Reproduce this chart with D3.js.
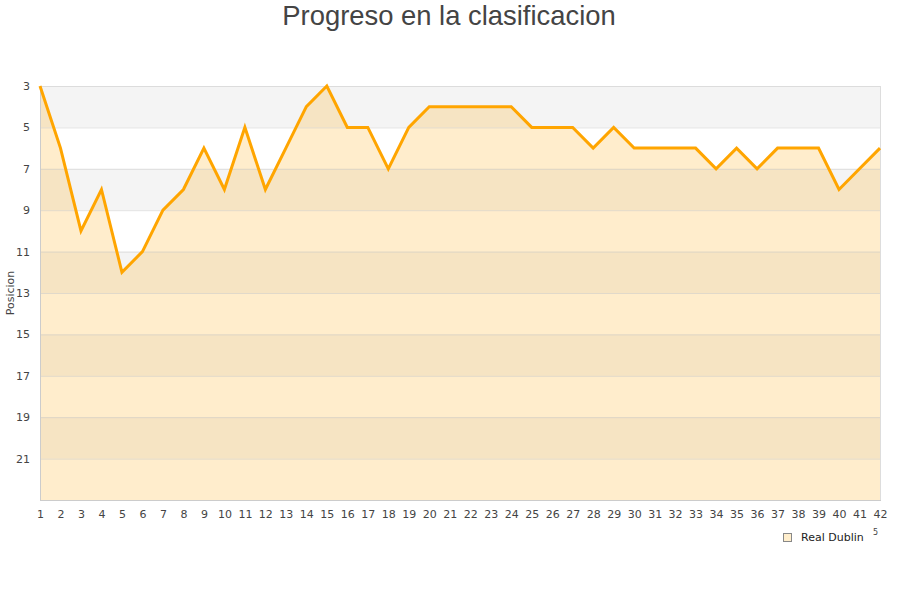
<!DOCTYPE html>
<html><head><meta charset="utf-8">
<script src="https://cdn.jsdelivr.net/npm/d3@7"></script>
<style>body{margin:0;background:#fff}svg{display:block}</style>
</head><body>
<svg id="c" width="900" height="600"></svg>
<script>
const jornadas = d3.range(1, 43);
const posiciones = [3,6,10,8,12,11,9,8,6,8,5,8,6,4,3,5,5,7,5,4,4,4,4,4,5,5,5,6,5,6,6,6,6,7,6,7,6,6,6,8,7,6];
const yTicks = [3,5,7,9,11,13,15,17,19,21];
const seriesName = "Real Dublin";
const title = "Progreso en la clasificacion";
const yLabel = "Posicion";

const svg = d3.select("#c");
const m = {l:40, r:20, t:86, b:100};
const W = 900, H = 600;
const x = d3.scaleLinear().domain([1,42]).range([m.l, W-m.r]);
const y = d3.scaleLinear().domain([3,23]).range([m.t, H-m.b]);

// bands
const bands = d3.range(3, 23, 2);
svg.append("g").selectAll("rect").data(bands).join("rect")
  .attr("x", x(1)).attr("width", x(42)-x(1))
  .attr("y", d=>y(d)).attr("height", d=>y(d+2)-y(d))
  .attr("fill", (d,i)=> i%2===0 ? "#f4f4f4" : "#ffffff");

// area
const data = jornadas.map((j,i)=>({j, p:posiciones[i]}));
svg.append("path").datum(data)
  .attr("d", d3.area().x(d=>x(d.j)).y0(y(23)).y1(d=>y(d.p)))
  .attr("fill", "rgba(255,165,0,0.2)");

// gridlines
svg.append("g").selectAll("line").data(yTicks.concat([23])).join("line")
  .attr("x1", x(1)).attr("x2", x(42)).attr("y1", d=>y(d)+0.5).attr("y2", d=>y(d)+0.5)
  .attr("stroke", "rgba(200,200,200,0.55)").attr("stroke-width",1);

// borders
svg.append("line").attr("x1", x(1)+0.5).attr("x2", x(1)+0.5).attr("y1", y(3)).attr("y2", y(23)+1).attr("stroke","#ccc");
svg.append("line").attr("x1", x(42)+0.5).attr("x2", x(42)+0.5).attr("y1", y(3)).attr("y2", y(23)+1).attr("stroke","#ddd");
svg.append("line").attr("x1", x(1)).attr("x2", x(42)+1).attr("y1", y(23)+0.5).attr("y2", y(23)+0.5).attr("stroke","#ccc");

// line
svg.append("path").datum(data)
  .attr("d", d3.line().x(d=>x(d.j)).y(d=>y(d.p)))
  .attr("fill","none").attr("stroke","#ffa500").attr("stroke-width",3).attr("stroke-linejoin","miter");

// axes
const yAxis = d3.axisLeft(y).tickValues(yTicks).tickSize(0).tickPadding(10);
const gy = svg.append("g").attr("transform",`translate(${x(1)},0)`).call(yAxis);
gy.select(".domain").remove();
gy.selectAll("text").attr("font-family","DejaVu Sans").attr("font-size",11).attr("fill","#444");

const xAxis = d3.axisBottom(x).tickValues(jornadas).tickFormat(d3.format("d")).tickSize(0).tickPadding(10);
const gx = svg.append("g").attr("transform",`translate(0,${y(23)})`).call(xAxis);
gx.select(".domain").remove();
gx.selectAll("text").attr("font-family","DejaVu Sans").attr("font-size",11).attr("fill","#444");

// title
svg.append("text").attr("x",449).attr("y",25).attr("text-anchor","middle")
  .attr("font-family","Liberation Sans, Arial, sans-serif").attr("font-size",27.4).attr("fill","#444").text(title);

// y label
svg.append("text").attr("transform","translate(14,293) rotate(-90)").attr("text-anchor","middle")
  .attr("font-family","DejaVu Sans").attr("font-size",11).attr("fill","#444").text(yLabel);

// legend
svg.append("rect").attr("x",783.5).attr("y",533.5).attr("width",8).attr("height",8)
  .attr("fill","#ffeecc").attr("stroke","#888");
svg.append("text").attr("x",801).attr("y",541).attr("font-family","DejaVu Sans").attr("font-size",11).attr("fill","#222").text(seriesName);
svg.append("text").attr("x",873).attr("y",535).attr("font-family","DejaVu Sans").attr("font-size",8).attr("fill","#444").text("5");
</script>
</body></html>
